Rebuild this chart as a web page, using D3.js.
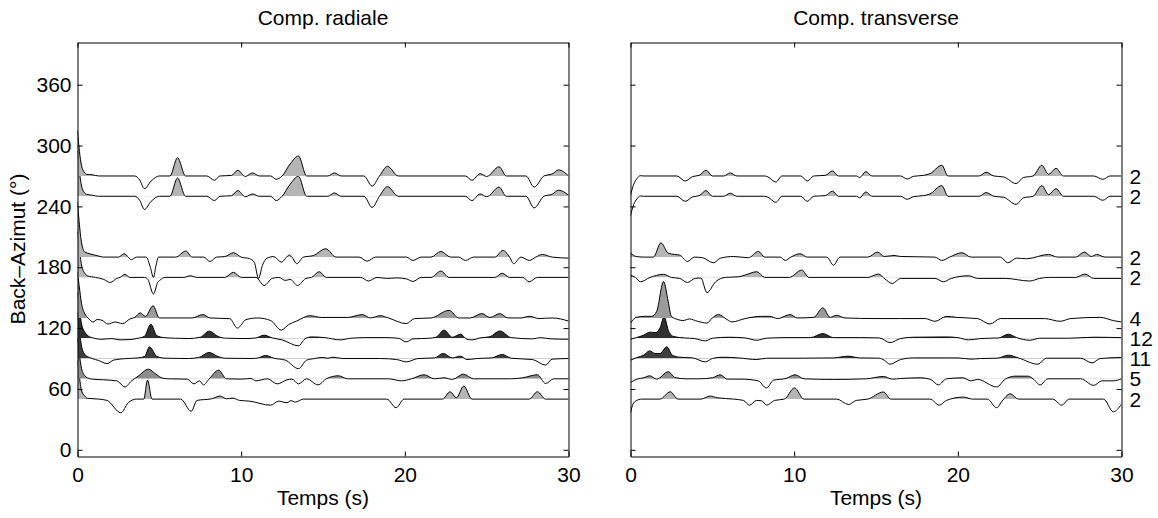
<!DOCTYPE html>
<html><head><meta charset="utf-8">
<script src="https://cdn.jsdelivr.net/npm/d3@7"></script>
<style>
body{margin:0;background:#fff}
text{font-family:"Liberation Sans",Arial,Helvetica,sans-serif;fill:#000}
</style>
</head><body>
<svg id="chart" width="1158" height="518"></svg>
<script>
// ---------------- data ----------------
const panelTitles = ["Comp. radiale", "Comp. transverse"];
const xLabel = "Temps (s)";
const yLabel = "Back–Azimut (°)";
const timeTicks = [0, 10, 20, 30];
const bazTicks = [0, 60, 120, 180, 240, 300, 360];
const backAzimuths = [50, 70, 90, 110, 130, 170, 190, 250, 270];
const stackCounts   = [2, 5, 11, 12, 4, 2, 2, 2, 2];

// traces: [time (s), amplitude (in back-azimuth degrees above baseline)]
const radial50 = [[0,38],[0.1,24],[0.25,8],[0.45,3],[0.6,0.8],[1.3,0],[1.8,-1.3],[2.65,-13.5],[3.1,-3.6],[3.6,0],[4.05,0],[4.28,18.7],[4.55,0],[6.3,0],[6.95,-12],[7.3,-1.3],[8.2,0.3],[8.72,3],[9.1,0.3],[9.5,1],[9.9,-1.3],[10.5,-2],[11.8,-6],[12.3,-2],[12.8,-3.6],[13.05,-1.5],[13.3,-3],[13.8,0],[18.9,0],[19.47,-8.5],[19.95,0],[22.3,0],[22.77,7.2],[23.15,1.3],[23.6,12.8],[24.1,0],[27.6,0],[28.1,7.2],[28.6,0],[30,0]];
const radial70 = [[0,40],[0.1,26],[0.25,10],[0.45,3],[0.6,1],[0.9,-0.3],[1.6,-1],[2.4,-2],[2.9,-8],[3.3,-2],[3.7,2.5],[4.33,9.5],[4.8,4.5],[5.2,0.6],[5.6,0],[6.7,-0.3],[7.12,-5],[7.45,-2],[7.7,-6],[8.05,0],[8.62,8.5],[9.1,0],[10.0,-0.3],[10.6,0.3],[10.9,-2],[11.6,0],[12.2,-5],[12.8,-1],[13.1,-0.3],[13.5,-5],[14.0,0],[14.7,-6],[15.2,0],[15.94,3],[16.5,0],[19.0,0],[19.8,-2],[20.4,0],[21.18,4],[21.8,0],[22.4,1],[22.9,-0.6],[23.58,4.6],[24.2,0],[26.5,0],[27.2,1],[28.1,4],[28.6,-4.6],[29.1,0],[30,0]];
const radial90 = [[0,45],[0.1,30],[0.25,12],[0.45,4],[0.6,2],[0.9,0],[1.3,-2],[1.8,-5],[2.2,-1.6],[3.0,0],[3.7,0.6],[4.1,2],[4.4,11.5],[4.85,2],[5.4,0.3],[6.8,0],[7.4,1],[8.05,6],[8.5,2.6],[9.0,0.3],[10.6,0],[11.0,0.5],[11.5,3],[12.0,0.3],[12.7,-1.6],[13.5,-10],[14.0,-1.6],[14.5,0],[14.93,1],[15.3,0.3],[15.6,1.3],[16.2,0],[18.5,0],[19.5,-1],[20.1,-3.3],[20.8,0],[21.8,0.6],[22.35,5],[22.9,0.6],[23.4,2.3],[23.8,-1],[24.4,0],[25.3,0.6],[25.95,4],[26.5,0.3],[27.8,-1],[28.6,-6.5],[29.0,-0.6],[30,0]];
const radial110 = [[0,45],[0.1,32],[0.25,14],[0.45,6],[0.6,3],[0.9,0.5],[1.5,-1],[2.1,-0.3],[2.6,-1.6],[3.2,-1.3],[3.7,0],[4.1,2],[4.48,13.8],[4.85,2.5],[5.3,0.6],[6.0,0],[6.8,-0.3],[7.5,1],[8.05,7],[8.6,1.6],[9.1,0],[10.3,-0.3],[10.9,0.3],[11.4,3],[11.9,0.3],[12.5,-1.6],[13.5,-7.5],[13.9,-0.6],[14.3,1.3],[15.1,0.6],[16.05,-1.6],[16.7,0],[17.6,0.6],[18.8,0.6],[19.6,0],[20.08,-3.6],[20.5,-0.6],[21.5,0],[21.9,1],[22.4,8],[22.9,1],[23.4,4],[23.8,-1],[24.1,-1.6],[24.6,0.3],[25.2,1.5],[25.8,7.2],[26.5,0.6],[27.8,-0.6],[28.3,0.6],[28.9,-0.6],[30,-1]];
const radial130 = [[0,45],[0.1,32],[0.25,14],[0.45,4],[0.65,0],[0.95,-4],[1.2,-1.5],[1.5,-2.3],[1.85,-6],[2.3,-4],[2.75,-5.6],[3.2,-1],[3.5,0.5],[3.83,5],[4.15,1.6],[4.62,12],[5.0,0],[7.0,0],[7.66,3.3],[8.1,0],[9.3,-0.7],[9.77,-10],[10.3,-1.6],[11.0,0],[11.8,-2.5],[12.45,-12],[12.9,-6.5],[13.4,-3],[14.2,2.3],[14.9,0.5],[16.5,0.5],[17.4,3.3],[17.9,0],[18.5,2.3],[19.0,0],[20.08,-5.6],[20.6,-0.6],[21.6,0],[22.7,7.5],[23.3,0],[24.0,0],[24.7,4.3],[25.2,0.5],[25.8,4.3],[26.3,0],[27.1,0],[27.6,1.6],[28.2,-0.6],[29.0,0],[30,-3]];
const radial170 = [[0,45],[0.1,30],[0.25,12],[0.45,4],[0.6,1.5],[1.1,0],[1.6,-2],[2.0,-5],[2.4,-1],[2.6,0],[2.9,3],[3.2,0],[4.1,0],[4.3,-2],[4.64,-16.4],[4.9,-5],[5.05,-2.6],[5.35,0],[6.5,0],[6.88,1.6],[7.3,0],[9.0,0],[9.53,5],[10.0,0],[10.9,0],[11.4,-8],[11.9,-1],[12.3,0],[12.7,-3],[13.0,-2],[13.45,-8],[13.95,-1],[14.3,0],[14.77,5.6],[15.2,0],[17.3,0],[17.78,-3.6],[18.3,0],[18.9,-1],[19.5,-0.5],[20.1,-1.5],[20.5,-4],[21.0,0],[21.6,0],[22.2,6.2],[22.7,0],[25.5,0],[25.95,4],[26.4,0],[27.2,0],[27.6,-4.3],[28.1,0],[30,0]];
const radial190 = [[0,54],[0.1,35],[0.25,14],[0.45,5],[0.7,3.5],[1.3,1],[1.6,0],[2.5,0],[2.85,3.3],[3.1,0],[3.28,-2.6],[3.6,0],[4.2,0],[4.45,-10],[4.64,-20],[4.8,-8],[4.95,0],[6.0,0],[6.62,6],[7.0,0],[7.7,0],[8.1,-4.3],[8.5,0],[9.0,0.5],[9.53,4.3],[10.0,0],[10.5,-1.5],[10.8,-5],[11.06,-21],[11.3,-8],[11.58,-1],[12.0,0.5],[12.45,-5],[12.95,2],[13.1,0],[13.4,-6.5],[13.8,0],[14.4,1.5],[15.17,8.2],[15.8,0],[17.2,0],[17.7,-4],[18.2,0],[20.1,0],[20.5,-3.3],[21.0,0],[21.6,0],[22.2,5.6],[22.8,0],[23.3,0],[23.7,-3.3],[24.2,0],[25.5,0],[26.0,6.6],[26.4,0],[26.65,-6.5],[27.1,0],[27.6,-3.3],[28.0,0],[28.4,2.6],[29.0,0],[30,-1]];
const radial250 = [[0,45],[0.12,24],[0.25,10],[0.4,4],[0.55,2],[0.9,1],[1.3,0],[3.5,0],[3.8,-4],[4.09,-13],[4.5,-5],[5.0,0],[5.65,0],[6.11,18],[6.6,0],[7.9,0],[8.37,-4.3],[8.7,0],[9.4,0.5],[9.8,5.6],[10.25,-0.5],[10.7,2.3],[11.1,0],[11.8,0],[12.14,-4.3],[12.5,0],[13.0,12],[13.5,19.7],[14.0,0],[15.3,0],[15.7,3.3],[16.1,0],[17.5,0],[18.0,-11],[18.45,0],[18.94,9.5],[19.6,0],[23.7,0],[24.1,-4.3],[24.6,2.3],[25.0,-0.5],[25.76,9],[26.2,0],[27.4,0],[27.9,-11.5],[28.5,0],[29.0,2],[29.4,6],[30,1]];
const radial270 = [[0,45],[0.12,24],[0.25,10],[0.4,4],[0.55,1.6],[0.9,1.2],[1.3,0],[3.5,0],[3.8,-4],[4.09,-12.5],[4.5,-5],[5.0,0],[5.65,0],[6.11,18],[6.6,0],[7.9,0],[8.37,-4.3],[8.7,0],[9.4,0.5],[9.8,5.6],[10.25,-0.5],[10.7,3],[11.1,0],[11.8,0],[12.14,-3.3],[12.5,0],[13.0,12],[13.5,19.7],[14.0,0],[15.3,0],[15.7,3],[16.1,0],[17.5,0],[18.0,-10],[18.45,0],[18.94,9.5],[19.6,0],[23.7,0],[24.1,-4.3],[24.6,2.3],[25.0,-0.5],[25.76,9],[26.2,0],[27.4,0],[27.9,-11],[28.5,0],[29.0,2],[29.4,6],[30,0]];

const transverse50 = [[0,-13.5],[0.15,-5],[0.35,-1.6],[0.7,0],[1.8,0],[2.43,7.2],[2.9,0],[4.3,0],[4.87,3],[5.3,1.3],[6.3,0],[6.9,-1.3],[7.27,-6],[7.7,-1.3],[8.0,-1.6],[8.33,-6],[8.8,-1.3],[9.4,0],[10.02,11],[10.6,0],[12.6,0],[13.32,-5.3],[13.8,-1.3],[14.5,0],[15.45,7],[15.9,0],[18.3,0],[18.87,-6],[19.3,-1.3],[20.34,2],[20.9,0],[21.8,0],[22.38,-8.5],[22.7,-2],[23.2,5.2],[23.7,0],[25.8,0],[26.35,-6],[26.8,0],[28.9,0],[29.5,-12.5],[30,-5]];
const transverse70 = [[0,-3.6],[0.4,-0.3],[0.8,1],[1.17,3],[1.6,-0.3],[2.32,7],[2.7,1.3],[3.4,0],[4.2,0],[5.0,1],[5.48,4],[5.9,-0.3],[6.8,-0.3],[7.8,-2],[8.3,-9],[8.75,-1.3],[9.5,0.3],[10.06,4],[10.6,0],[12.4,-0.6],[14.4,0],[15.45,2.3],[16.0,-0.3],[16.5,0.3],[17.7,1],[18.3,-0.3],[18.82,-6],[19.3,0],[20.3,1],[20.8,-2],[21.2,-0.6],[22.38,-8],[22.9,-0.3],[23.5,2.6],[24.3,2.6],[24.6,0],[25.03,-6],[25.5,0],[27.5,0],[28.3,-6.5],[28.8,-2],[29.5,-2],[30,0]];
const transverse90 = [[0,-1.6],[0.4,1],[0.8,3.3],[1.17,7.5],[1.5,5],[1.8,5],[2.22,11.5],[2.55,3.3],[3.0,1.3],[3.8,0.6],[4.57,-3.3],[5.0,0],[5.6,1.3],[6.6,0.6],[7.72,-1],[8.3,0.3],[10.3,0.3],[12.4,0.6],[13.3,2.3],[14.0,0.6],[15.2,0.3],[15.5,-1.6],[15.86,-5.6],[16.5,-1],[17.3,0.6],[19.3,0.6],[20.0,0.6],[20.8,-0.6],[21.4,0],[22.4,0.3],[23.09,3.3],[23.7,0.6],[24.9,-5.6],[25.4,0.3],[27.5,0.3],[28.2,-4.3],[28.7,0],[30,1]];
const transverse110 = [[0,-1],[0.35,0.6],[0.8,3],[1.2,6],[1.5,5.5],[1.8,10],[2.05,21],[2.35,6],[2.65,1.6],[3.3,0.3],[3.9,-0.3],[4.57,-2.6],[5.0,0],[6.0,1],[7.0,0.3],[7.72,-2],[8.3,0],[9.5,0.6],[11.0,0.6],[11.75,4.6],[12.4,0.6],[14.0,0.6],[15.2,0.3],[15.86,-4.3],[16.5,-0.3],[17.3,1],[19.3,1.3],[20.0,0.6],[20.65,-1.6],[21.4,-0.3],[22.5,0.3],[23.09,4],[23.6,0.6],[24.4,-2],[25.0,0],[26.8,0],[28.3,1],[30,0.6]];
const transverse130 = [[0,-5],[0.35,0.6],[0.9,1.6],[1.3,1.6],[1.6,6.5],[2.02,36],[2.3,16.5],[2.5,1.6],[2.9,-1.6],[3.2,-2.6],[3.6,-1],[4.1,-3.3],[4.67,-5],[5.0,0],[5.38,3.3],[5.9,-1.6],[6.2,-3.9],[7.0,-0.6],[8.0,1.6],[8.49,1.6],[9.0,-0.6],[9.75,3.3],[10.2,0],[11.2,0.6],[11.75,10],[12.2,0.6],[12.6,2.6],[13.1,0],[15.0,-0.6],[16.5,-0.6],[18.0,-0.6],[18.6,-3.3],[19.32,1.6],[19.9,0.6],[21.2,-0.6],[21.97,-6],[22.6,-0.6],[25.3,-0.6],[26.25,-3.3],[26.9,-0.6],[28.7,0.6],[29.5,-2.6],[30,-4]];
const transverse170 = [[0,2],[0.3,0],[0.6,-4.3],[1.2,0],[2.02,3],[2.5,0],[3.0,-1],[3.48,-5],[3.95,-1],[4.3,-0.6],[4.67,-15],[5.2,-4.3],[5.8,0],[6.6,0.6],[7.0,2.3],[7.72,5.6],[8.2,0],[9.7,0],[10.47,7.2],[10.9,0],[14.5,0],[15.15,3.3],[15.55,-1.6],[16.0,-6],[16.5,-1],[18.6,-1],[19.12,-4.3],[19.6,-1],[20.65,1.6],[21.2,-1],[22.9,-1],[24.4,-3.6],[25.0,-1],[25.6,0],[27.2,0],[27.77,3.3],[28.3,-1],[30,-1]];
const transverse190 = [[0,4],[0.35,0.6],[0.8,0],[1.4,0],[1.86,14],[2.3,4],[2.7,2.6],[3.0,2],[3.48,-4.3],[3.9,0],[4.4,-0.6],[5.07,-5.6],[5.5,-1],[6.3,0.6],[7.2,-0.6],[7.82,5.6],[8.2,0],[9.15,0],[9.45,-3.3],[9.8,0],[10.36,3.3],[10.8,0],[12.0,0],[12.4,-8],[12.8,0],[14.5,0],[15.1,5],[15.5,0.6],[16.1,1.6],[16.5,0.6],[18.6,0],[19.02,-3.3],[19.5,0],[20.25,4.3],[20.8,0],[22.6,0],[23.05,-5.6],[23.6,-1],[24.2,-1.6],[25.54,2.6],[26.1,0],[27.2,0],[27.73,5],[28.15,0.6],[28.48,2.6],[29.0,0],[30,0]];
const transverse250 = [[0,-19],[0.2,-8],[0.39,-2.6],[0.6,0.3],[0.8,0],[2.83,0],[3.34,-5],[3.8,-0.6],[4.2,0.6],[4.62,5.6],[5.0,0],[5.7,0],[6.09,3],[6.5,0],[8.2,0],[8.4,-1],[8.88,-6],[9.25,0],[10.4,0],[10.8,-5],[11.2,0],[11.9,0.6],[12.34,5],[12.7,0],[13.8,0],[14.0,-1.6],[14.38,4.3],[14.75,0],[16.5,0],[16.9,-3],[17.3,-0.3],[17.9,0.6],[18.3,2.3],[19.02,10.5],[19.4,0],[21.3,0],[21.73,3.6],[22.2,0],[22.8,-1],[23.56,-8],[24.0,-1.6],[24.6,0],[25.13,10.5],[25.55,1.6],[26.0,7.5],[26.45,0],[28.3,0],[28.86,-4],[29.3,0],[30,0]];
const transverse270 = [[0,-19],[0.2,-8],[0.39,-2.6],[0.6,0.3],[0.8,0],[2.83,0],[3.34,-5],[3.8,-0.6],[4.2,0.6],[4.62,5.6],[5.0,0],[5.7,0],[6.09,3],[6.5,0],[8.2,0],[8.4,-1],[8.88,-6],[9.25,0],[10.4,0],[10.8,-5],[11.2,0],[11.9,0.6],[12.34,5],[12.7,0],[13.8,0],[14.0,-1.6],[14.38,4.3],[14.75,0],[16.5,0],[16.9,-3],[17.3,-0.3],[17.9,0.6],[18.3,2.3],[19.02,10.5],[19.4,0],[21.3,0],[21.73,3.6],[22.2,0],[22.8,-1],[23.56,-7.5],[24.0,-1.6],[24.6,0],[25.13,10.5],[25.55,1.6],[26.0,7.5],[26.45,0],[28.3,0],[28.86,-3.3],[29.3,0],[30,0]];

const radialTraces = [radial50, radial70, radial90, radial110, radial130, radial170, radial190, radial250, radial270];
const transverseTraces = [transverse50, transverse70, transverse90, transverse110, transverse130, transverse170, transverse190, transverse250, transverse270];

// ---------------- drawing ----------------
const svg = d3.select("#chart");
const FONT = 21;
const plotTop = 42.5, plotBottom = 456.5;
const panels = [
  {x0: 77.5, x1: 568.5, traces: radialTraces, title: panelTitles[0], leftLabels: true, countLabels: false},
  {x0: 630.5, x1: 1121.5, traces: transverseTraces, title: panelTitles[1], leftLabels: false, countLabels: true}
];
const gray = d3.scaleLinear().domain([2, 12]).range([0.71, 0.19]);
const fillFor = c => { const v = Math.round(gray(c) * 255); return `rgb(${v},${v},${v})`; };

const defs = svg.append("defs");

panels.forEach((p, pi) => {
  const x = d3.scaleLinear().domain([0, 30]).range([p.x0, p.x1]);
  const y = d3.scaleLinear().domain([-6.6, 401.6]).range([plotBottom, plotTop]);
  const g = svg.append("g");

  const clipId = `plot${pi}`;
  defs.append("clipPath").attr("id", clipId).append("rect")
    .attr("x", p.x0).attr("y", plotTop).attr("width", p.x1 - p.x0).attr("height", plotBottom - plotTop);

  const tg = g.append("g").attr("clip-path", `url(#${clipId})`);

  p.traces.forEach((tr, i) => {
    const base = backAzimuths[i];
    const by = y(base);
    const cid = `pos${pi}_${i}`;
    defs.append("clipPath").attr("id", cid).append("rect")
      .attr("x", p.x0).attr("y", plotTop - 100).attr("width", p.x1 - p.x0).attr("height", by - (plotTop - 100));
    const area = d3.area().curve(d3.curveMonotoneX)
      .x(d => x(d[0])).y0(by).y1(d => y(base + d[1]));
    const line = d3.line().curve(d3.curveMonotoneX)
      .x(d => x(d[0])).y(d => y(base + d[1]));
    const gg = tg.append("g");
    gg.append("path").attr("d", area(tr)).attr("fill", fillFor(stackCounts[i]))
      .attr("stroke", "none").attr("clip-path", `url(#${cid})`);
    gg.append("path").attr("d", line(tr)).attr("fill", "none")
      .attr("stroke", "#000").attr("stroke-width", 1);
  });

  const ax = (axis, tx, ty) => {
    const a = g.append("g").attr("transform", `translate(${tx},${ty})`).call(axis);
    a.select(".domain").attr("stroke", "#000").attr("stroke-width", 1);
    a.selectAll(".tick line").attr("stroke", "#000").attr("stroke-width", 1);
    a.selectAll("text").style("font-size", FONT + "px").attr("fill", "#000")
      .style("font-family", '"Liberation Sans", Arial, sans-serif');
    return a;
  };
  ax(d3.axisBottom(x).tickValues(timeTicks).tickSizeInner(-5).tickSizeOuter(0).tickPadding(11).tickFormat(d3.format("d")), 0, plotBottom);
  ax(d3.axisTop(x).tickValues(timeTicks).tickSizeInner(-5).tickSizeOuter(0).tickFormat(""), 0, plotTop);
  const yl = d3.axisLeft(y).tickValues(bazTicks).tickSizeInner(-5).tickSizeOuter(0).tickPadding(6);
  if (!p.leftLabels) yl.tickFormat("");
  ax(yl, p.x0, 0);
  ax(d3.axisRight(y).tickValues(bazTicks).tickSizeInner(-5).tickSizeOuter(0).tickFormat(""), p.x1, 0);

  svg.append("text").attr("x", (p.x0 + p.x1) / 2).attr("y", 24.5)
    .attr("text-anchor", "middle").style("font-size", FONT + "px").text(p.title);
  svg.append("text").attr("x", (p.x0 + p.x1) / 2).attr("y", 505)
    .attr("text-anchor", "middle").style("font-size", FONT + "px").text(xLabel);

  if (p.countLabels) {
    backAzimuths.forEach((b, i) => {
      svg.append("text").attr("x", p.x1 + 8).attr("y", y(b)).attr("dy", "0.36em")
        .style("font-size", FONT + "px").text(stackCounts[i]);
    });
  }
});

svg.append("text").attr("transform", "translate(25,249) rotate(-90)")
  .attr("text-anchor", "middle").style("font-size", FONT + "px").text(yLabel);
</script>
</body></html>
